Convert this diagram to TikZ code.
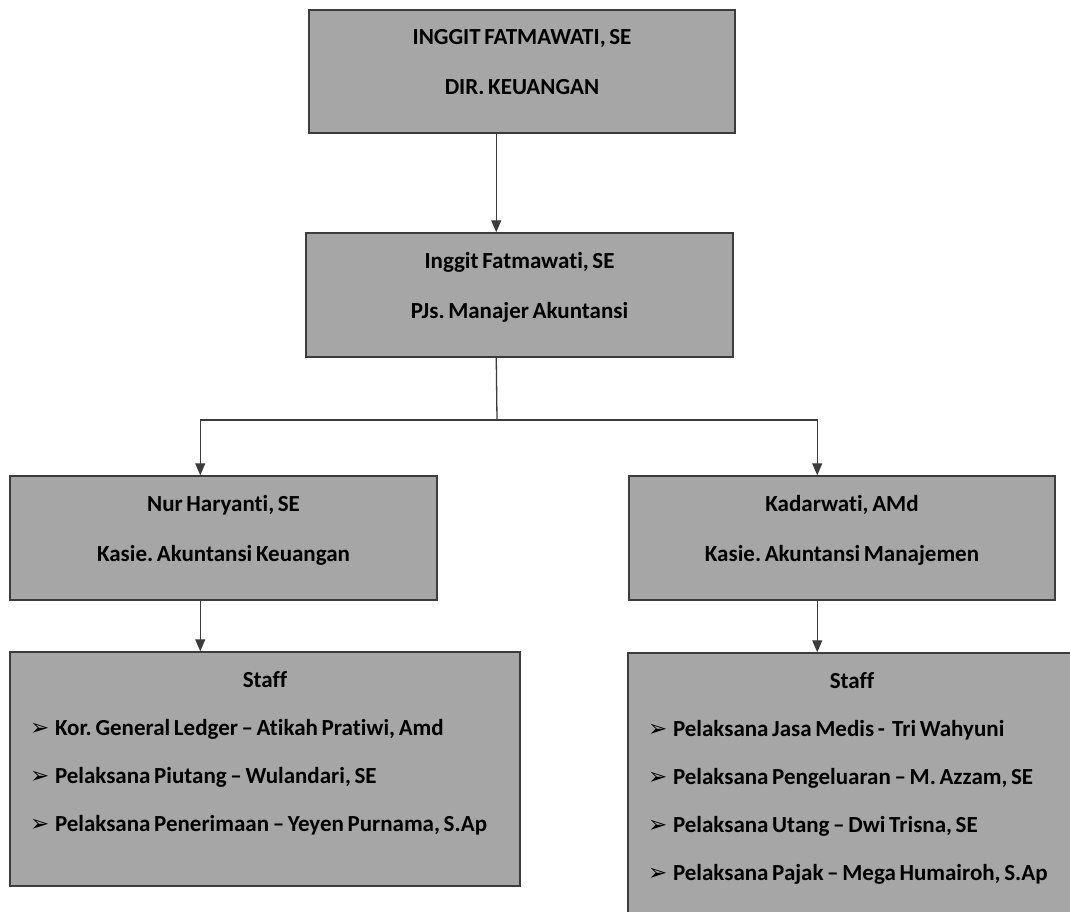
\documentclass[tikz,border=0pt]{standalone}
\usepackage{fontspec}
\setmainfont[WordSpace=0.7, Ligatures=NoCommon]{Carlito}
\newfontfamily\dejavu{DejaVu Sans}
\usetikzlibrary{arrows.meta, positioning}
\definecolor{boxgray}{RGB}{166, 166, 166}
\definecolor{edgegray}{RGB}{60, 60, 60}
\newcommand{\itm}[1]{\mbox{\makebox[25pt][l]{\dejavu\fontsize{23}{23}\selectfont ➢}#1}}
\frenchspacing

\begin{document}
\begin{tikzpicture}[x=1pt, y=-1pt,
  obox/.style={draw=edgegray, fill=boxgray, line width=1.5pt, align=center, inner sep=0pt,
    font=\bfseries\fontsize{23}{50}\selectfont, text height=85pt},
  sbox/.style={draw=edgegray, fill=boxgray, line width=1.5pt, align=flush left, inner ysep=0pt, inner xsep=20pt,
    font=\bfseries\fontsize{23}{48}\selectfont, text height=35pt},
  arr/.style={draw=edgegray, line width=1.3pt, -{Triangle[width=10pt, length=12pt]}}
]
  \useasboundingbox (0,0) rectangle (1070,912);
  \clip (0,0) rectangle (1070,912);
  \fill[white] (0,0) rectangle (1070,912);

  \node[obox, minimum width=426pt, text depth=38pt] (dir) at (522, 71.5)
    {INGGIT FATMAWATI, SE\\DIR. KEUANGAN};
  \node[obox, minimum width=427pt, text depth=39pt] (mgr) at (519.5, 295)
    {Inggit Fatmawati, SE\\PJs. Manajer Akuntansi};
  \node[obox, minimum width=427pt, text depth=39pt] (kak) at (223.5, 538)
    {Nur Haryanti, SE\\Kasie. Akuntansi Keuangan};
  \node[obox, minimum width=426pt, text depth=39pt] (kam) at (842, 538)
    {Kadarwati, AMd\\Kasie. Akuntansi Manajemen};

  % staff
  \node[sbox, text width=470pt, text depth=199pt] (stl) at (265, 769) {%
    \makebox[\linewidth]{Staff}\\
    \itm{Kor. General Ledger -- Atikah Pratiwi, Amd}\\
    \itm{Pelaksana Piutang -- Wulandari, SE}\\
    \itm{Pelaksana Penerimaan -- Yeyen Purnama, S.Ap}};
  \node[sbox, text width=408pt, text depth=245pt] (str) at (852, 793) {%
    \makebox[\linewidth]{Staff}\\
    \itm{Pelaksana Jasa Medis -\ \ Tri Wahyuni}\\
    \itm{Pelaksana Pengeluaran -- M. Azzam, SE}\\
    \itm{Pelaksana Utang -- Dwi Trisna, SE}\\
    \itm{Pelaksana Pajak -- Mega Humairoh, S.Ap}};

  \coordinate (split) at (497, 420);
  \draw[arr] ([xshift=188pt]dir.south west) -- ([xshift=191pt]mgr.north west);
  \draw[draw=edgegray, line width=1.3pt] ([xshift=191pt]mgr.south west) -- (split);
  \draw[arr] (split) -| ([xshift=191pt]kak.north west);
  \draw[arr] (split) -| ([xshift=189pt]kam.north west);
  \draw[arr] ([xshift=191pt]kak.south west) -- ([xshift=191pt]stl.north west);
  \draw[arr] ([xshift=189pt]kam.south west) -- ([xshift=190pt]str.north west);
\end{tikzpicture}
\end{document}
